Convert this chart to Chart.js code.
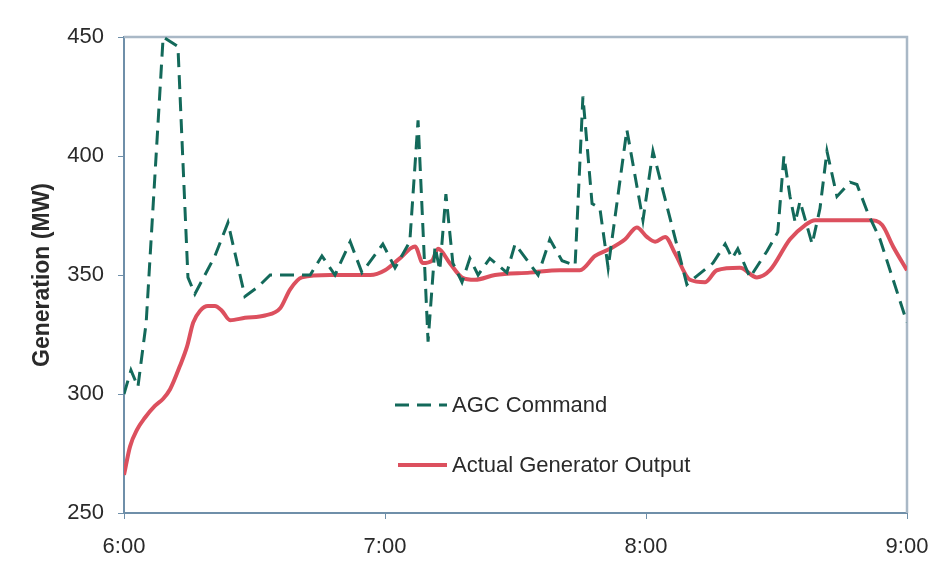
<!DOCTYPE html>
<html>
<head>
<meta charset="utf-8">
<script src="https://cdn.jsdelivr.net/npm/chart.js@4"></script>
<style>
  html, body { margin: 0; padding: 0; background: #fff; }
</style>
</head>
<body>
<canvas id="genChart" width="936" height="573"></canvas>
<script>
// minutes after 6:00 and MW
const agcMinutes = [0, 1.6, 3.2, 5.1, 9.0, 12.4, 14.7, 16.3, 18.6, 20.9, 23.9, 27.8, 30.8, 33.6, 42.8,
  45.5, 48.5, 52.0, 54.7, 59.5, 62.3, 65.7, 67.6, 69.9, 71.5, 72.6, 74.0, 75.6, 77.7, 79.5, 81.4,
  84.1, 88.0, 89.9, 95.2, 97.9, 100.7, 103.7, 105.5, 107.6, 109.4, 111.3, 115.6, 119.3, 121.6,
  129.4, 131.3, 135.4, 138.2, 139.8, 141.1, 143.9, 147.8, 150.3, 151.7, 153.1, 154.3, 155.4,
  158.2, 160.0, 161.6, 163.9, 166.9, 168.5, 171.0, 173.8, 180];
const agcMW = [300, 310, 303, 330, 450, 446, 349, 342, 350, 358, 372, 341, 345, 350, 350,
  358, 350, 364, 351, 363, 353, 364, 415, 322, 362, 352, 384, 355, 347, 357, 350,
  357, 351, 363, 350, 365, 356, 354, 425, 380, 378, 353, 411, 373, 402,
  346, 349, 355, 363, 357, 361, 349, 360, 368, 400, 383, 372, 381,
  363, 378, 402, 383, 389, 388, 376, 365, 330];

const actualMinutes = [0, 1.4, 3.0, 4.8, 7.1, 9.0, 10.6, 12.9, 14.5, 15.9, 17.5, 19.3, 20.9, 22.5,
  24.4, 27.8, 32.4, 35.9, 38.2, 40.9, 47.4, 56.6, 60.0, 63.4, 66.9, 68.7, 70.8, 72.2, 74.9,
  77.7, 80.7, 85.3, 93.3, 100.2, 104.8, 108.3, 111.7, 115.2, 117.9, 120.2, 122.1, 124.4, 126.7,
  130.1, 133.6, 136.3, 141.6, 145.5, 148.5, 153.1, 156.6, 158.9, 167.6, 171.5, 174.3, 176.8, 180];
const actualMW = [266, 278, 285, 290, 295, 298, 302, 312, 320, 330, 335, 337, 337, 335,
  331, 332, 333, 336, 344, 349, 350, 350, 352, 357, 362, 355, 356, 361, 355,
  349, 348, 350, 351, 352, 352, 358, 361, 365, 370, 366, 364, 366, 359,
  348, 347, 352, 353, 349, 352, 365, 371, 373, 373, 373, 371, 362, 352];

const timeTicks = [0, 60, 120, 180];
const timeLabels = ['6:00', '7:00', '8:00', '9:00'];
const seriesNames = ['AGC Command', 'Actual Generator Output'];

const toPoints = (xs, ys) => xs.map((x, i) => ({ x: x, y: ys[i] }));

const axisColor = '#6f8fa9';
const textColor = '#2a2a2a';
const fontFamily = '"Liberation Sans", Arial, sans-serif';

// top and right edges of the plot box
const framePlugin = {
  id: 'frame',
  beforeDatasetsDraw(chart) {
    const { ctx, chartArea: a } = chart;
    ctx.save();
    ctx.strokeStyle = '#a9b8c6';
    ctx.lineWidth = 2.5;
    ctx.beginPath();
    ctx.moveTo(a.left, a.top);
    ctx.lineTo(a.right, a.top);
    ctx.lineTo(a.right, a.bottom);
    ctx.stroke();
    ctx.restore();
  }
};

// legend sits inside the plot, below the curves
const insideLegend = {
  id: 'insideLegend',
  afterDraw(chart, args, opts) {
    const ctx = chart.ctx;
    ctx.save();
    ctx.font = opts.font;
    ctx.textBaseline = 'middle';
    chart.data.datasets.forEach((ds, i) => {
      const row = opts.rows[i];
      ctx.strokeStyle = ds.borderColor;
      ctx.lineWidth = ds.borderWidth;
      ctx.setLineDash(ds.borderDash || []);
      ctx.beginPath();
      ctx.moveTo(row.x0, row.y);
      ctx.lineTo(row.x1, row.y);
      ctx.stroke();
      ctx.setLineDash([]);
      ctx.fillStyle = textColor;
      ctx.fillText(ds.label, row.x1 + 5, row.y + 1);
    });
    ctx.restore();
  }
};

new Chart(document.getElementById('genChart'), {
  type: 'line',
  data: {
    datasets: [
      {
        label: seriesNames[0],
        data: toPoints(agcMinutes, agcMW),
        borderColor: '#13695a',
        borderWidth: 3,
        borderDash: [14, 8],
        pointRadius: 0,
        tension: 0
      },
      {
        label: seriesNames[1],
        data: toPoints(actualMinutes, actualMW),
        borderColor: '#dc505e',
        borderWidth: 4,
        pointRadius: 0,
        cubicInterpolationMode: 'monotone'
      }
    ]
  },
  options: {
    responsive: false,
    devicePixelRatio: 1,
    animation: false,
    layout: { padding: { top: 37, right: 29, left: 0, bottom: 0 } },
    plugins: {
      legend: { display: false },
      tooltip: { enabled: false },
      insideLegend: {
        font: '22px ' + fontFamily,
        rows: [
          { x0: 395, x1: 447, y: 405 },
          { x0: 398, x1: 447, y: 465 }
        ]
      }
    },
    scales: {
      x: {
        type: 'linear',
        min: 0,
        max: 180,
        afterBuildTicks: (scale) => { scale.ticks = timeTicks.map(v => ({ value: v })); },
        afterFit: (scale) => {
          scale.height = 60;
          scale.paddingLeft = 0;
          scale.paddingRight = 0;
        },
        ticks: {
          autoSkip: false,
          maxRotation: 0,
          padding: 15,
          color: textColor,
          font: { family: fontFamily, size: 22 },
          callback: (v) => timeLabels[timeTicks.indexOf(v)]
        },
        grid: { drawOnChartArea: false, color: axisColor, tickLength: 6 },
        border: { color: axisColor, width: 2 }
      },
      y: {
        min: 250,
        max: 450,
        afterFit: (scale) => { scale.width = 124; },
        ticks: {
          stepSize: 50,
          padding: 14,
          color: textColor,
          font: { family: fontFamily, size: 22 }
        },
        grid: { drawOnChartArea: false, color: axisColor, tickLength: 6 },
        border: { color: axisColor, width: 2 },
        title: {
          display: true,
          text: 'Generation (MW)',
          color: textColor,
          padding: { top: 29, bottom: 0 },
          font: { family: fontFamily, size: 23, weight: 'bold' }
        }
      }
    }
  },
  plugins: [framePlugin, insideLegend]
});
</script>
</body>
</html>
